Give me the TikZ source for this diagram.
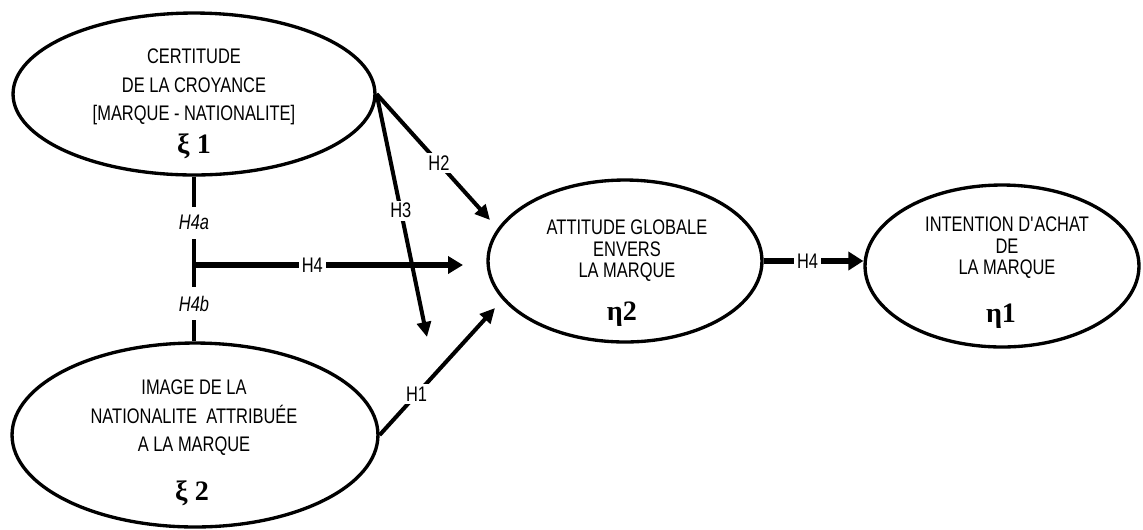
\documentclass[tikz,border=0pt]{standalone}
\usepackage{fontspec}
\setmainfont{Liberation Sans}[FakeStretch=0.78]
\newfontfamily\grkfont{Liberation Serif}
\usetikzlibrary{arrows.meta, shapes.geometric}

\begin{document}
\begin{tikzpicture}[x=0.02cm, y=-0.02cm,
            lv/.style={ellipse, draw, line width=1.9pt, inner sep=0pt},
            txt/.style={align=center, font=\fontsize{12}{16.2}\selectfont},
            txtr/.style={align=center, font=\fontsize{12}{12.2}\selectfont},
            greek/.style={font=\grkfont\bfseries\fontsize{16}{18}\selectfont},
            hyp/.style={fill=white, inner sep=1.5pt, font=\fontsize{12}{14}\selectfont},
            hypi/.style={hyp, inner ysep=5pt, font=\itshape\fontsize{12}{14}\selectfont},
            arr/.style={line width=2.3pt, -{Triangle[length=0.3cm, width=0.28cm]}},
            bigarr/.style={line width=3pt, -{Triangle[length=0.3cm, width=0.34cm]}},
            etaarr/.style={line width=3.8pt, -{Triangle[length=0.3cm, width=0.36cm]}},
            bar/.style={line width=2.8pt}]
          \useasboundingbox (0,0) rectangle (1143,529);
          \node[lv, minimum width=7.24cm, minimum height=3.24cm] (xi1) at (194,94) {};
          \node[lv, minimum width=7.32cm, minimum height=3.68cm] (xi2) at (195,435) {};
          \node[lv, minimum width=5.48cm, minimum height=3.24cm] (eta2) at (625,261) {};
          \node[lv, minimum width=5.48cm, minimum height=3.24cm] (eta1) at (1002,266) {};
          \node[txt] (xi1txt) at (194,87) {CERTITUDE\\DE LA CROYANCE\\{[MARQUE - NATIONALITE]}};
          \node[greek] (xi1sym) at (194,146) {ξ 1};
          \node[txt] (xi2txt) at (194,418) {IMAGE DE LA\\NATIONALITE\ \ ATTRIBUÉE\\A LA MARQUE};
          \node[greek] (xi2sym) at (192,493) {ξ 2};
          \node[txtr] (eta2txt) at (627,251) {ATTITUDE GLOBALE\\ENVERS\\LA MARQUE};
          \node[greek] (eta2sym) at (622,314) {η2};
          \node[txtr] (eta1txt) at (1007,248) {INTENTION D\textquotesingle ACHAT\\DE\\LA MARQUE};
          \node[greek] (eta1sym) at (1001,316) {η1};
          \coordinate (h2end) at (490,220);
          \coordinate (h3end) at (427,337);
          \coordinate (h1end) at (495,308);
          \coordinate (h4from) at (194,265);
          \coordinate (h4end) at (463,265);
          \draw[bar] (xi1.south) -- node[hypi, pos=0.28] (h4a) {H4a}
                node[hypi, pos=0.77] (h4b) {H4b} (xi1.south |- xi2.north);
          \draw[bigarr] (h4from) -- node[hyp, pos=0.44] (h4l) {H4} (h4end);
          \draw[arr] (xi1.east) -- node[hyp, pos=0.55] (h2l) {H2} (h2end);
          \draw[arr] (xi1.east) -- node[hyp, pos=0.48] (h3l) {H3} (h3end);
          \draw[arr] (xi2.east) -- node[hyp, pos=0.32] (h1l) {H1} (h1end);
          \draw[etaarr] (eta2.east) -- node[hyp, pos=0.44] (h4r) {H4} (eta2.east -| eta1.west);
        \end{tikzpicture}
\end{document}
